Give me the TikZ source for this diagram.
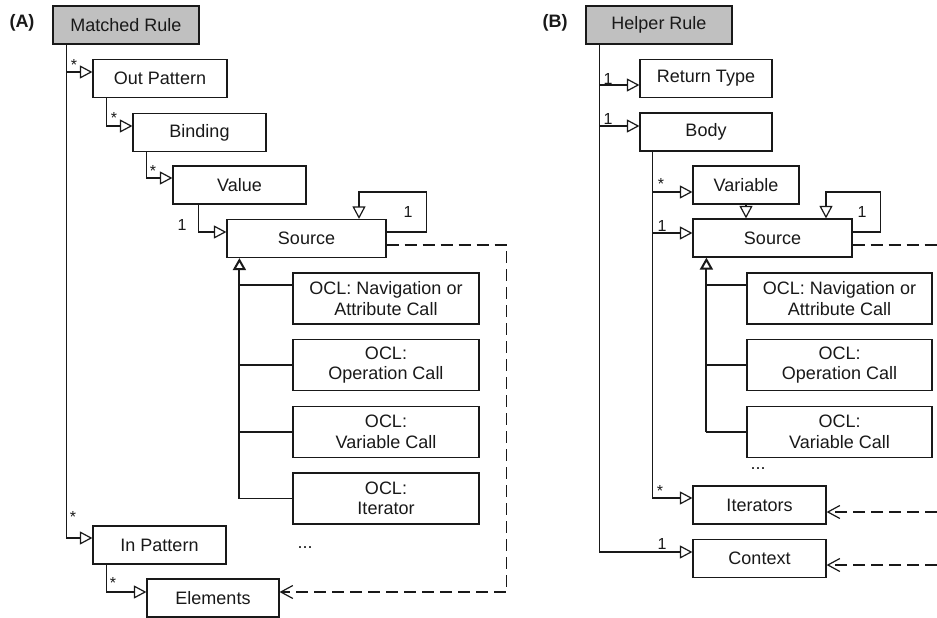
\documentclass[tikz,border=0pt]{standalone}
\usepackage{fontspec}
\setmainfont{Liberation Sans}
\usetikzlibrary{arrows.meta}
\definecolor{rulegray}{RGB}{192,192,192}
\definecolor{ink}{RGB}{25,25,25}
\begin{document}
\begin{tikzpicture}[x=1pt,y=-1pt,
  every node/.style={font=\fontsize{18}{20.5}\selectfont, text=ink},
  box/.style={draw=ink, line width=1.2pt, fill=white, minimum height=38pt, inner sep=0pt, align=center},
  rulebox/.style={box, fill=rulegray},
  twoline/.style={box, minimum height=51pt, minimum width=186pt},
  assoc/.style={draw=ink, line width=1.2pt, -{Triangle[open,length=12.5pt,width=13pt]}},
  gen/.style={draw=ink, line width=2pt, -{Triangle[open,length=12pt,width=13pt]}},
  branch/.style={draw=ink, line width=1.2pt},
  depline/.style={draw=ink, line width=1.2pt, dash pattern=on 12pt off 6pt},
  dep/.style={depline, -{Straight Barb[length=12pt,width=13pt]}},
  mult/.style={font=\fontsize{16}{16}\selectfont, inner sep=0pt, anchor=base},
  tag/.style={font=\bfseries\fontsize{18}{20}\selectfont}]
\useasboundingbox (0,0) rectangle (937,618);

% ---------- (A) matched rule ----------
\node[tag] (tagA) at (22,23) {(A)};
\node[rulebox, minimum width=146pt] (MR) at (126,25) {Matched Rule};
\node[box, minimum width=134pt] (OP) at (160,78.5) {Out Pattern};
\node[box, minimum width=133pt] (BI) at (199.5,132.5) {Binding};
\node[box, minimum width=133pt] (VA) at (239.5,185) {Value};
\node[box, minimum width=159pt] (SO) at (306.5,238.5) {Source};
\node[twoline] (N1) at (386,298.5) {OCL: Navigation or\\Attribute Call};
\node[twoline] (O1) at (386,365) {OCL:\\Operation Call};
\node[twoline] (V1) at (386,432) {OCL:\\Variable Call};
\node[twoline] (I1) at (386,498.5) {OCL:\\Iterator};
\node[anchor=base, inner sep=0pt] (dotsA) at (305,548.5) {...};
\node[box, minimum width=133pt] (IP) at (159.5,545) {In Pattern};
\node[box, minimum width=132pt] (EL) at (213,598) {Elements};

\coordinate (mrA) at ([xshift=14pt]MR.south west);
\draw[assoc] (mrA) |- ([yshift=6.5pt]OP.west);
\draw[assoc] (mrA) |- ([yshift=7pt]IP.west);
\draw[assoc] ([xshift=14pt]OP.south west) |- ([yshift=6.5pt]BI.west);
\draw[assoc] ([xshift=14pt]BI.south west) |- ([yshift=7pt]VA.west);
\draw[assoc] ([xshift=26pt]VA.south west) |- ([yshift=6.5pt]SO.west);
\draw[assoc] ([xshift=14pt]IP.south west) |- ([yshift=6pt]EL.west);
\draw[assoc] ([yshift=6.5pt]SO.east) -- ++(40pt,0) -- ++(0,40pt) -| ([xshift=52.5pt]SO.north);
\draw[dep] ([yshift=-6.5pt]SO.east) -- ++(120pt,0) |- ([yshift=6pt]EL.east);

\coordinate (gA) at ([xshift=13pt]SO.south west);
\coordinate (n1A) at ([yshift=13.5pt]N1.west);
\draw[branch] (n1A) -- (gA |- n1A);
\draw[branch] (O1.west) -- (gA |- O1.west);
\draw[branch] (V1.west) -- (gA |- V1.west);
\draw[branch] (I1.west) -- (gA |- I1.west);
\draw[gen] (gA |- I1.west) -- (gA);

\node[mult] (mA1) at (74,70.5) {*};
\node[mult] (mA2) at (114,123.5) {*};
\node[mult] (mA3) at (153,176.5) {*};
\node[mult] (mA4) at (182,230.8) {1};
\node[mult] (mA5) at (408,217.8) {1};
\node[mult] (mA6) at (73,522.5) {*};
\node[mult] (mA7) at (113,588.5) {*};

% ---------- (B) helper rule ----------
\node[tag] (tagB) at (555,23) {(B)};
\node[rulebox, minimum width=146pt] (HR) at (659,25) {Helper Rule};
\node[box, minimum width=132pt] (RT) at (706,78.5) {Return Type};
\node[box, minimum width=132pt] (BO) at (706,132) {Body};
\node[box, minimum width=106pt] (VR) at (746,185) {Variable};
\node[box, minimum width=159pt] (S2) at (772.5,238) {Source};
\node[twoline, minimum width=185pt] (N2) at (839.5,298.5) {OCL: Navigation or\\Attribute Call};
\node[twoline, minimum width=185pt] (O2) at (839.5,365) {OCL:\\Operation Call};
\node[twoline, minimum width=185pt] (V2) at (839.5,432) {OCL:\\Variable Call};
\node[anchor=base, inner sep=0pt] (dotsB) at (758,469.5) {...};
\node[box, minimum width=133pt] (IT) at (759.5,505) {Iterators};
\node[box, minimum width=133pt] (CT) at (759.5,558.5) {Context};

\coordinate (hrB) at ([xshift=14pt]HR.south west);
\draw[assoc] (hrB) |- ([yshift=-6.5pt]RT.west);
\draw[assoc] (hrB) |- ([yshift=6pt]BO.west);
\draw[assoc] (hrB) |- ([yshift=6.5pt]CT.west);
\coordinate (boB) at ([xshift=13pt]BO.south west);
\draw[assoc] (boB) |- ([yshift=-7pt]VR.west);
\draw[assoc] (boB) |- ([yshift=5pt]S2.west);
\draw[assoc] (boB) |- ([yshift=7pt]IT.west);
\draw[assoc] (VR.south) -- (VR.south |- S2.north);
\draw[assoc] ([yshift=6pt]S2.east) -- ++(28pt,0) -- ++(0,40pt) -| ([xshift=53.5pt]S2.north);

\coordinate (edgeS) at (937,245);
\coordinate (edgeI) at (937,512);
\coordinate (edgeC) at (937,565);
\draw[depline] ([yshift=-7pt]S2.east) -- (edgeS);
\draw[dep] (edgeI) -- ([yshift=-7pt]IT.east);
\draw[dep] (edgeC) -- ([yshift=-6.5pt]CT.east);

\coordinate (gB) at ([xshift=14pt]S2.south west);
\coordinate (n2B) at ([yshift=13.5pt]N2.west);
\draw[branch] (n2B) -- (gB |- n2B);
\draw[branch] (O2.west) -- (gB |- O2.west);
\draw[branch] (V2.west) -- (gB |- V2.west);
\draw[gen] (gB |- V2.west) -- (gB);

\node[mult] (mB1) at (608,84.8) {1};
\node[mult] (mB2) at (608,124.8) {1};
\node[mult] (mB3) at (661,189.5) {*};
\node[mult] (mB4) at (662,231.8) {1};
\node[mult] (mB5) at (862,217.8) {1};
\node[mult] (mB6) at (660,496.5) {*};
\node[mult] (mB7) at (662,549.8) {1};
\end{tikzpicture}
\end{document}
